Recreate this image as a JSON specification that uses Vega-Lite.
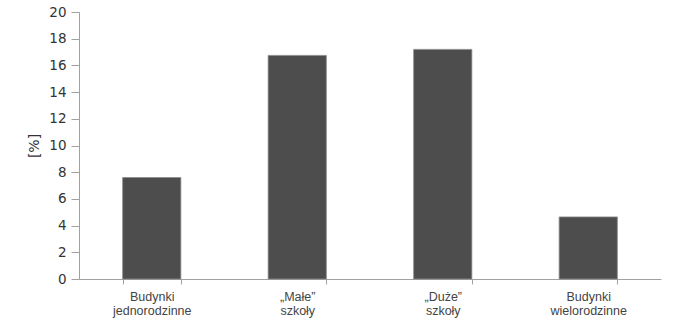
{
  "$schema": "https://vega.github.io/schema/vega-lite/v6.json",
  "width": 582,
  "height": 267,
  "autosize": {"type": "none"},
  "padding": {"left": 79, "top": 12, "right": 28, "bottom": 51},
  "background": "white",
  "data": {
    "values": [
      {"kategoria": "Budynki|jednorodzinne", "wartosc": 7.6},
      {"kategoria": "„Małe”|szkoły", "wartosc": 16.75},
      {"kategoria": "„Duże”|szkoły", "wartosc": 17.2},
      {"kategoria": "Budynki|wielorodzinne", "wartosc": 4.65}
    ]
  },
  "mark": {"type": "bar", "color": "#4d4d4d", "stroke": "#8a8a8a", "strokeWidth": 0.8},
  "encoding": {
    "x": {
      "field": "kategoria",
      "type": "nominal",
      "sort": null,
      "scale": {"paddingInner": 0.6, "paddingOuter": 0.3},
      "axis": {
        "title": null,
        "labelAngle": 0,
        "labelExpr": "split(datum.label, '|')",
        "labelFont": "Liberation Sans",
        "labelFontSize": 12.5,
        "labelColor": "#444444",
        "labelLineHeight": 14,
        "labelPadding": 6,
        "tickBand": "extent",
        "tickSize": 5,
        "tickColor": "#a0a0a0",
        "domainColor": "#a0a0a0",
        "grid": false
      }
    },
    "y": {
      "field": "wartosc",
      "type": "quantitative",
      "scale": {"domain": [0, 20], "nice": false},
      "axis": {
        "title": "[%]",
        "titleFont": "DejaVu Sans",
        "titleFontSize": 14,
        "titleFontWeight": "normal",
        "titleColor": "#333333",
        "titlePadding": 7,
        "values": [0, 2, 4, 6, 8, 10, 12, 14, 16, 18, 20],
        "labelFont": "DejaVu Sans",
        "labelFontSize": 13.5,
        "labelColor": "#333333",
        "labelPadding": 5,
        "tickSize": 8,
        "tickColor": "#a0a0a0",
        "domainColor": "#a0a0a0",
        "grid": false
      }
    }
  },
  "config": {"view": {"stroke": null}}
}
